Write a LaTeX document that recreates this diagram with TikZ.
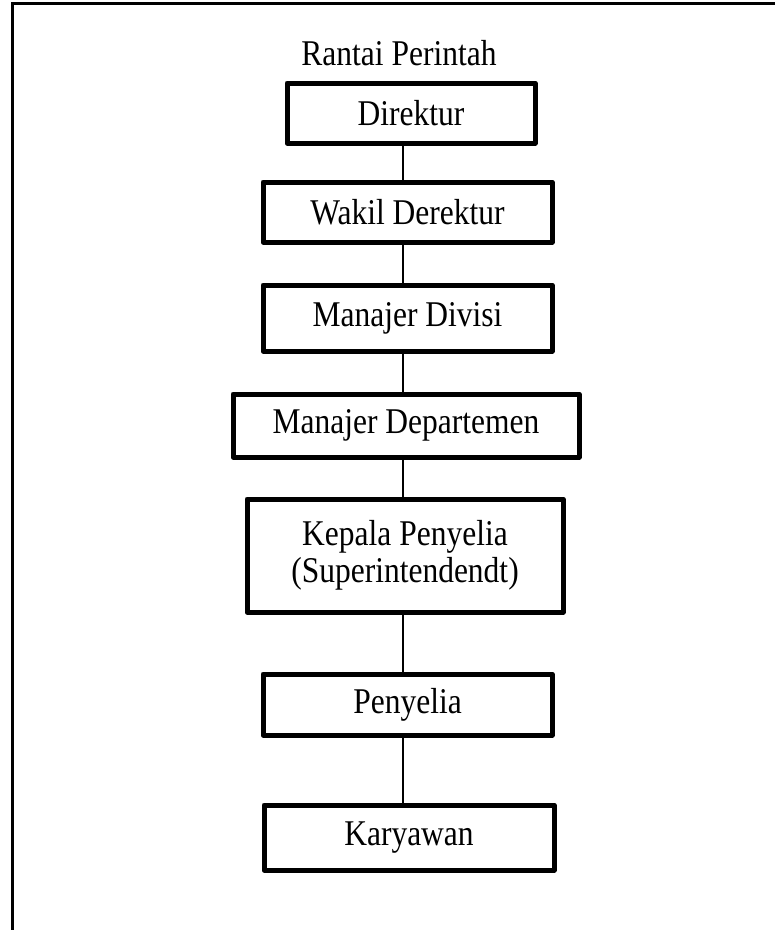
\documentclass[tikz,border=0pt]{standalone}
\usepackage{fontspec}
\setmainfont{Liberation Serif}
\newcommand{\talltext}[1]{\scalebox{1}[1.15]{#1}}
\begin{document}
\begin{tikzpicture}[x=1pt,y=-1pt,
  box/.style={draw, line width=5pt, line join=round, inner sep=0pt, align=center,
    font=\fontsize{31.5}{37}\selectfont},
  link/.style={line width=1.5pt},
  frame/.style={line width=3pt}]
\useasboundingbox (0,0) rectangle (775,930);
\coordinate (tl) at (12,3);
\coordinate (tr) at (776,3);
\coordinate (bl) at (12,931);
\draw[frame] (tr) -- (tl) -- (bl);
\node[font=\fontsize{31.5}{36}\selectfont, anchor=base] (title) at (399,65) {\talltext{Rantai Perintah}};
\node[box, minimum width=248pt, minimum height=60pt] (d) at (411,113) {\talltext{Direktur}};
\node[box, minimum width=289pt, minimum height=60pt] (w) at (407.5,212) {\talltext{Wakil Derektur}};
\node[box, minimum width=289pt, minimum height=66pt] (md) at (407.5,318) {\talltext{Manajer Divisi}};
\node[box, minimum width=346pt, minimum height=63pt] (mdp) at (406,425.5) {\talltext{Manajer Departemen}};
\node[box, minimum width=316pt, minimum height=113pt] (kp) at (405,555.5) {\talltext{Kepala Penyelia}\\\talltext{(Superintendendt)}};
\node[box, minimum width=289pt, minimum height=61pt] (p) at (407.5,704.5) {\talltext{Penyelia}};
\node[box, minimum width=290pt, minimum height=65pt] (k) at (409,837.5) {\talltext{Karyawan}};
\coordinate (cx) at (403,0);
\draw[link] (d.south -| cx) -- (w.north -| cx);
\draw[link] (w.south -| cx) -- (md.north -| cx);
\draw[link] (md.south -| cx) -- (mdp.north -| cx);
\draw[link] (mdp.south -| cx) -- (kp.north -| cx);
\draw[link] (kp.south -| cx) -- (p.north -| cx);
\draw[link] (p.south -| cx) -- (k.north -| cx);
\end{tikzpicture}
\end{document}
